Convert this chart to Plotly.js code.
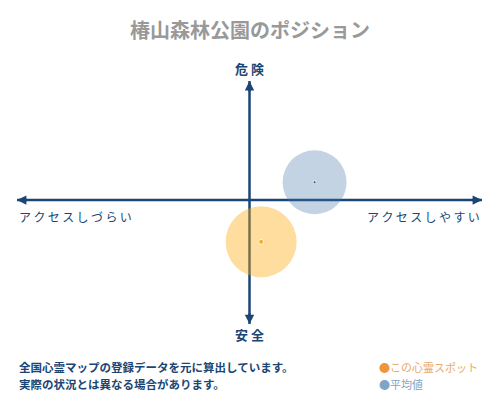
<!DOCTYPE html>
<html>
<head>
<meta charset="utf-8">
<script src="https://cdn.plot.ly/plotly-3.0.1.min.js"></script>
<style>
  html, body { margin: 0; padding: 0; background: #fff; }
  #chart { width: 500px; height: 400px; }
</style>
</head>
<body>
<div id="chart"></div>
<script>
// position of the spot vs the average (x: access, y: danger)
var pointNames = ['この心霊スポット', '平均値'];
var accessX = [0.05, 0.28];
var dangerY = [-0.35, 0.15];

var chartTitle = '椿山森林公園のポジション';
var axisTexts = ['危 険', '安 全', 'アクセスしづらい', 'アクセスしやすい'];
var noteLines = ['全国心霊マップの登録データを元に算出しています。', '実際の状況とは異なる場合があります。'];

var jp = '"Noto Sans CJK JP", "Noto Sans", sans-serif';
var navy = '#1b4674';

// add thin spaces between characters to mimic letter spacing
function spaced(s) {
  return s.split('').join('\u2009');
}

var data = [{
  type: 'scatter',
  mode: 'markers',
  x: accessX,
  y: dangerY,
  text: pointNames,
  hoverinfo: 'text',
  marker: {
    size: [71, 64],
    color: ['rgba(252,175,23,0.6)', 'rgba(65,115,170,0.45)'],
    line: {width: 0}
  },
  showlegend: false
}, {
  type: 'scatter',
  mode: 'markers',
  x: accessX,
  y: dangerY,
  hoverinfo: 'skip',
  marker: {size: [5, 3], color: ['#f39800', '#222']},
  showlegend: false
}];

var arrowBase = {
  xref: 'x', yref: 'y', axref: 'x', ayref: 'y',
  text: '', showarrow: true, arrowhead: 2, arrowsize: 0.75,
  arrowwidth: 2.5, arrowcolor: navy, standoff: 0, startstandoff: 0
};

var layout = {
  width: 500,
  height: 400,
  margin: {l: 17, r: 18, t: 81, b: 76, pad: 0},
  paper_bgcolor: '#fff',
  plot_bgcolor: '#fff',
  font: {family: jp},
  title: {
    text: chartTitle,
    x: 0.5, xanchor: 'center',
    y: 1 - 31 / 400, yanchor: 'middle',
    font: {family: jp, size: 20, color: '#999', weight: 'bold'}
  },
  xaxis: {range: [-1, 1], visible: false, fixedrange: true},
  yaxis: {range: [-1.04, 1], visible: false, fixedrange: true},
  shapes: [
    {type: 'line', layer: 'below', xref: 'x', yref: 'y', x0: -1, x1: 1, y0: 0, y1: 0,
     line: {color: navy, width: 2.5}},
    {type: 'line', layer: 'below', xref: 'x', yref: 'y', x0: 0, x1: 0, y0: -1.04, y1: 1,
     line: {color: navy, width: 2.5}}
  ],
  annotations: [
    Object.assign({}, arrowBase, {x: 1, y: 0, ax: 0.95, ay: 0}),
    Object.assign({}, arrowBase, {x: -1, y: 0, ax: -0.95, ay: 0}),
    Object.assign({}, arrowBase, {x: 0, y: 1, ax: 0, ay: 0.9}),
    Object.assign({}, arrowBase, {x: 0, y: -1.04, ax: 0, ay: -0.94}),
    {xref: 'x', yref: 'y', x: 0, y: 1, yshift: 13, showarrow: false,
     text: axisTexts[0], xanchor: 'center', yanchor: 'middle',
     font: {size: 13, color: navy, weight: 'bold'}},
    {xref: 'x', yref: 'y', x: 0, y: -1.04, yshift: -10, showarrow: false,
     text: axisTexts[1], xanchor: 'center', yanchor: 'middle',
     font: {size: 13, color: navy, weight: 'bold'}},
    {xref: 'x', yref: 'y', x: -1, y: 0, yshift: -16, showarrow: false,
     text: spaced(axisTexts[2]), xanchor: 'left', yanchor: 'middle',
     font: {size: 12, color: navy}},
    {xref: 'x', yref: 'y', x: 1, y: 0, yshift: -16, showarrow: false,
     text: spaced(axisTexts[3]), xanchor: 'right', yanchor: 'middle',
     font: {size: 12, color: navy}},
    {xref: 'paper', yref: 'paper', x: 0, y: 0, yshift: -43, showarrow: false,
     text: noteLines[0], xanchor: 'left', yanchor: 'middle',
     font: {size: 11.5, color: navy, weight: 'bold'}},
    {xref: 'paper', yref: 'paper', x: 0, y: 0, yshift: -60, showarrow: false,
     text: noteLines[1], xanchor: 'left', yanchor: 'middle',
     font: {size: 11.5, color: navy, weight: 'bold'}},
    {xref: 'paper', yref: 'paper', x: (377 - 17) / 465, y: 0, yshift: -43, showarrow: false,
     text: '<span style="color:#f0963a">●</span>' + pointNames[0],
     xanchor: 'left', yanchor: 'middle',
     font: {size: 11, color: '#eaa866'}},
    {xref: 'paper', yref: 'paper', x: (377 - 17) / 465, y: 0, yshift: -60, showarrow: false,
     text: '<span style="color:#7fa4c8">●</span>' + pointNames[1],
     xanchor: 'left', yanchor: 'middle',
     font: {size: 11, color: '#86a3c2'}}
  ]
};

Plotly.newPlot('chart', data, layout, {staticPlot: true, displayModeBar: false});
</script>
</body>
</html>
